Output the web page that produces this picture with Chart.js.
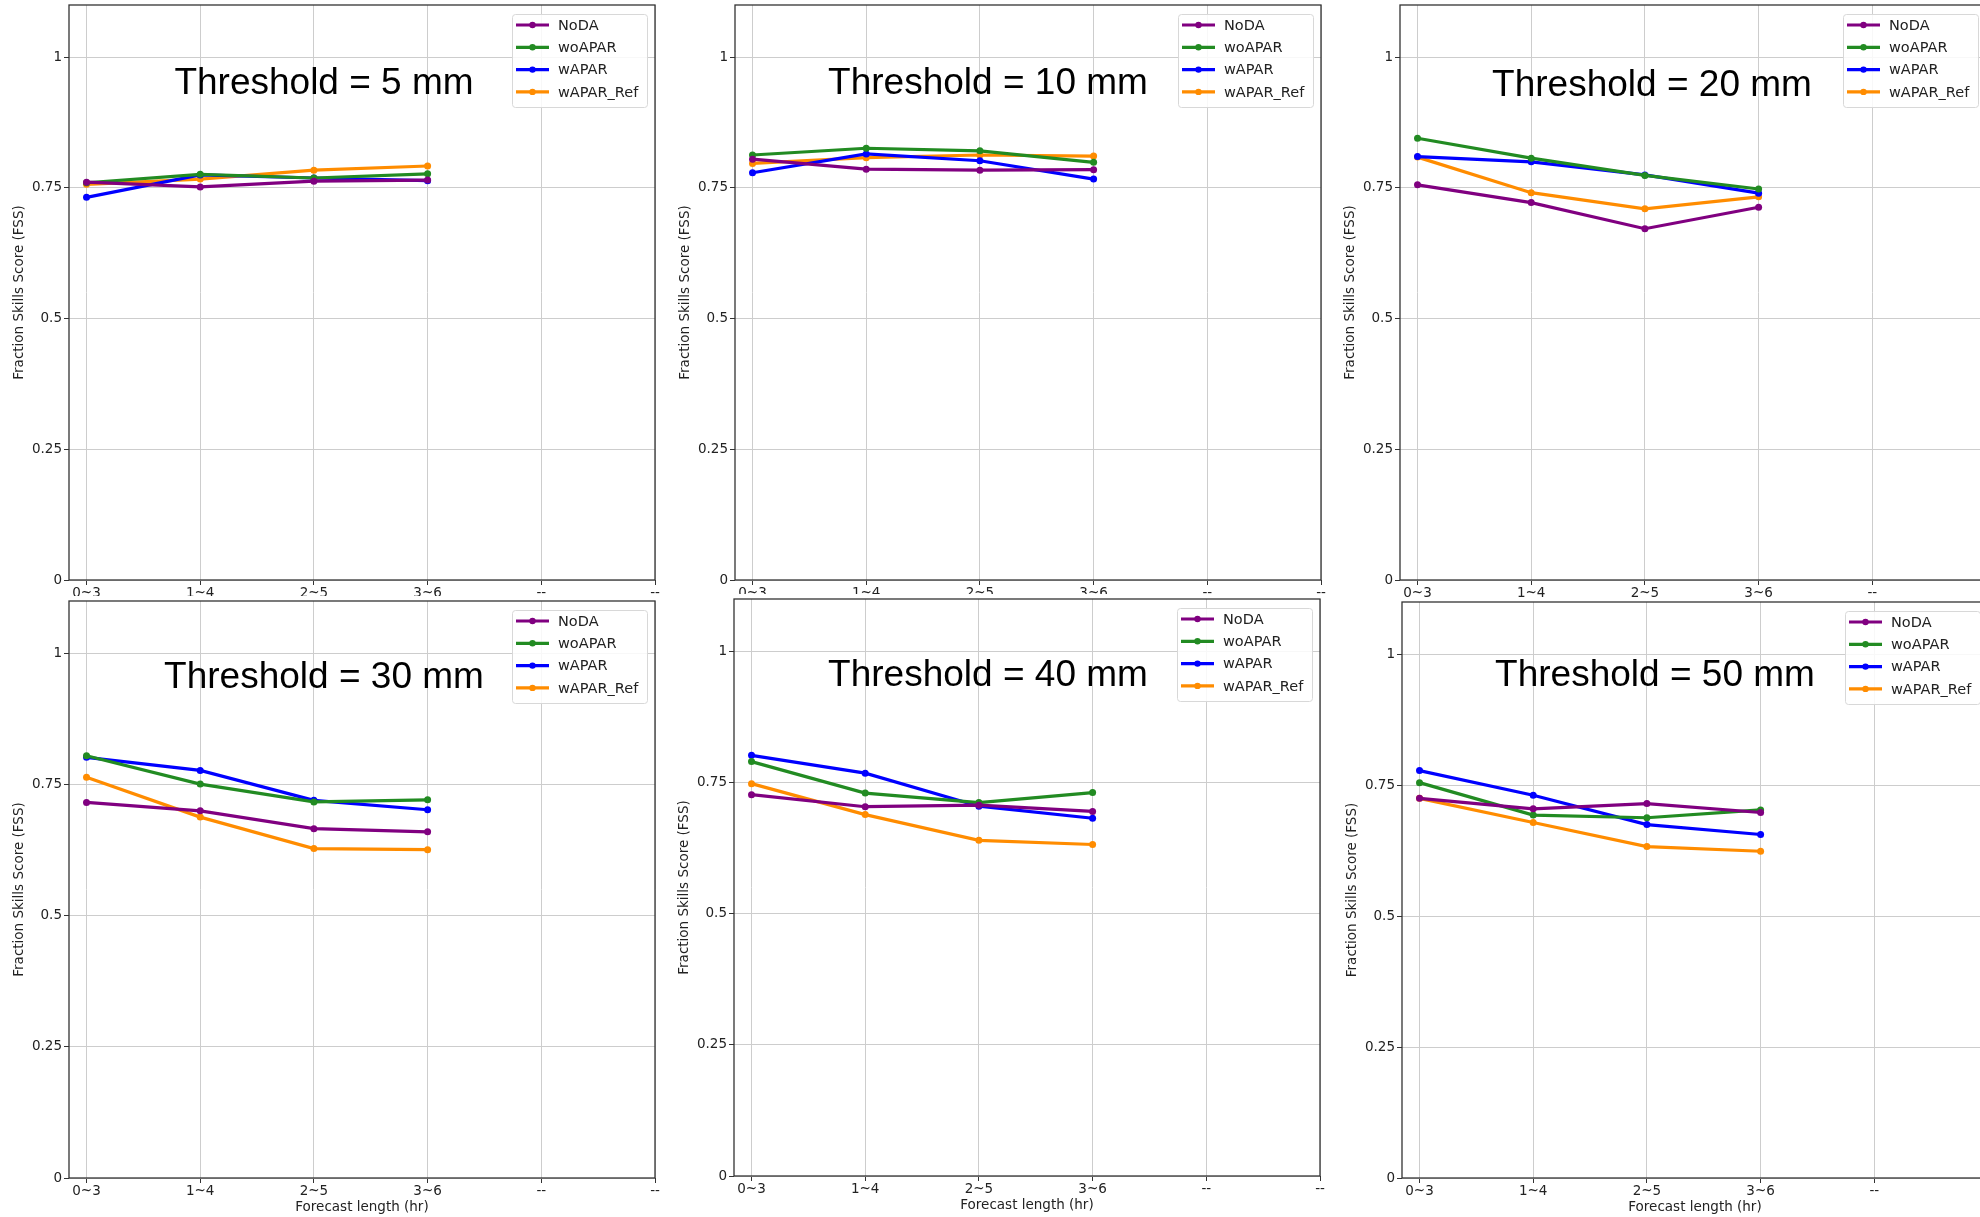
<!DOCTYPE html>
<html lang="en">
<head>
<meta charset="UTF-8">
<title>Fraction Skills Score by threshold</title>
<script src="https://cdn.jsdelivr.net/npm/chart.js"></script>
<style>
  body { margin: 0; width: 1980px; height: 1217px; overflow: hidden; background: #fff; position: relative; }
  .panel { position: absolute; background: #fff; }
  .panel canvas { display: block; }
  .thr {
    position: absolute; z-index: 10;
    font-family: "Liberation Sans", Arial, sans-serif; font-size: 37px; line-height: 1;
    color: #000; white-space: nowrap; transform: translate(-50%, -50%);
  }
</style>
</head>
<body>
<script>
// x axis: forecast windows, the last two ticks are empty placeholders
const xLabels = ['0~3', '1~4', '2~5', '3~6', '--', '--'];
const yTicks = [0, 0.25, 0.5, 0.75, 1];
const thresholds = [5, 10, 20, 30, 40, 50];
const seriesNames = ['NoDA', 'woAPAR', 'wAPAR', 'wAPAR_Ref'];

// FSS, one row per threshold, one column per forecast window
const noDA = [
  [0.761, 0.752, 0.763, 0.765],
  [0.805, 0.786, 0.784, 0.785],
  [0.756, 0.722, 0.672, 0.713],
  [0.716, 0.700, 0.666, 0.660],
  [0.727, 0.704, 0.707, 0.695],
  [0.725, 0.705, 0.715, 0.698]
];
const woAPAR = [
  [0.760, 0.776, 0.769, 0.777],
  [0.813, 0.826, 0.821, 0.799],
  [0.845, 0.807, 0.774, 0.748],
  [0.805, 0.751, 0.717, 0.721],
  [0.790, 0.730, 0.712, 0.731],
  [0.755, 0.693, 0.688, 0.703]
];
const wAPAR = [
  [0.732, 0.775, 0.769, 0.764],
  [0.779, 0.815, 0.802, 0.767],
  [0.810, 0.800, 0.775, 0.740],
  [0.802, 0.777, 0.720, 0.702],
  [0.802, 0.768, 0.705, 0.682],
  [0.778, 0.731, 0.675, 0.656]
];
const wAPARRef = [
  [0.757, 0.767, 0.784, 0.792],
  [0.797, 0.808, 0.813, 0.811],
  [0.809, 0.741, 0.710, 0.733],
  [0.764, 0.688, 0.628, 0.626],
  [0.748, 0.689, 0.640, 0.632],
  [0.725, 0.679, 0.633, 0.624]
];

const seriesData = [noDA, woAPAR, wAPAR, wAPARRef];
const colors = ['#800080', '#228b22', '#0000ff', '#ff8c00'];

// layout of the six pasted panels (plot area left, top, height) and title centres
const panelBoxes = [
  [69, 5, 575], [735, 5, 575], [1400, 5, 575],
  [69, 601, 577], [734, 599, 577], [1402, 602, 576]
];
const titlePos = [[324, 81], [988, 81], [1652, 83], [324, 675], [988, 673], [1655, 673]];

const PLOT_W = 586, AXIS_W = 70, AXIS_H = 38, PAD_T = 5, PAD_R = 14;
const FONT = '"DejaVu Sans", sans-serif';

Chart.defaults.font.family = FONT;
Chart.defaults.font.size = 13.5;
Chart.defaults.color = '#222';

// box around the plot area, matplotlib style
const frame = {
  id: 'frame',
  beforeDatasetsDraw(chart) {
    const { ctx, chartArea: a } = chart;
    ctx.save();
    ctx.strokeStyle = '#333';
    ctx.lineWidth = 1.3;
    ctx.strokeRect(a.left, a.top, a.right - a.left, a.bottom - a.top);
    ctx.restore();
  }
};

// legend drawn inside the upper right corner
const boxLegend = {
  id: 'boxLegend',
  afterDraw(chart) {
    const { ctx, chartArea: a } = chart;
    const w = 135, h = 93;
    const x = a.right - 8 - w, y = a.top + 9;
    ctx.save();
    ctx.fillStyle = 'rgba(255,255,255,0.85)';
    ctx.strokeStyle = '#d8d8d8';
    ctx.lineWidth = 1;
    ctx.beginPath();
    ctx.roundRect(x + 0.5, y + 0.5, w, h, 3);
    ctx.fill();
    ctx.stroke();
    chart.data.datasets.forEach((ds, i) => {
      const ly = y + 11 + i * 22.3;
      ctx.strokeStyle = ds.borderColor;
      ctx.lineWidth = 3.2;
      ctx.beginPath();
      ctx.moveTo(x + 4, ly);
      ctx.lineTo(x + 37, ly);
      ctx.stroke();
      ctx.fillStyle = ds.borderColor;
      ctx.beginPath();
      ctx.arc(x + 20.5, ly, 3.2, 0, Math.PI * 2);
      ctx.fill();
      ctx.fillStyle = '#222';
      ctx.font = '14.5px ' + FONT;
      ctx.textBaseline = 'middle';
      ctx.fillText(ds.label, x + 46, ly + 1);
    });
    ctx.restore();
  }
};

thresholds.forEach((thr, p) => {
  const [left, top, h] = panelBoxes[p];
  const bottomRow = p >= 3;

  const div = document.createElement('div');
  div.className = 'panel';
  div.style.left = (left - AXIS_W) + 'px';
  div.style.top = (top - PAD_T) + 'px';
  const canvas = document.createElement('canvas');
  canvas.width = AXIS_W + PLOT_W + PAD_R;
  canvas.height = PAD_T + h + AXIS_H;
  div.appendChild(canvas);
  document.body.appendChild(div);

  const grid = { color: '#cdcdcd', lineWidth: 1, tickLength: 5, tickColor: '#333' };

  new Chart(canvas.getContext('2d'), {
    type: 'line',
    data: {
      datasets: seriesNames.map((name, s) => ({
        label: name,
        data: seriesData[s][p].map((v, i) => ({ x: i, y: v })),
        borderColor: colors[s],
        backgroundColor: colors[s],
        borderWidth: 3.2,
        pointRadius: 3.5,
        pointBorderWidth: 0,
        pointBackgroundColor: colors[s],
        tension: 0,
        fill: false
      }))
    },
    options: {
      responsive: false,
      animation: false,
      events: [],
      layout: { padding: { top: PAD_T, right: PAD_R, left: 0, bottom: 0 } },
      plugins: { legend: { display: false }, tooltip: { enabled: false } },
      scales: {
        x: {
          type: 'linear',
          min: -0.154,
          max: 5,
          afterBuildTicks: s => { s.ticks = xLabels.map((_, i) => ({ value: i })); },
          afterFit: s => { s.height = AXIS_H; s.paddingLeft = 0; s.paddingRight = 0; },
          ticks: { callback: v => xLabels[v], autoSkip: false, maxRotation: 0, padding: 0 },
          grid: grid,
          border: { display: false },
          title: { display: bottomRow, text: 'Forecast length (hr)', padding: { top: 0, bottom: 0 } }
        },
        y: {
          min: 0,
          max: 1.1,
          afterBuildTicks: s => { s.ticks = yTicks.map(v => ({ value: v })); },
          afterFit: s => { s.width = AXIS_W; s.paddingTop = 0; s.paddingBottom = 0; },
          ticks: { callback: v => String(v), padding: 2 },
          grid: grid,
          border: { display: false },
          title: { display: true, text: 'Fraction Skills Score (FSS)', padding: { top: 12, bottom: 0 } }
        }
      }
    },
    plugins: [frame, boxLegend]
  });

  const t = document.createElement('div');
  t.className = 'thr';
  t.textContent = 'Threshold = ' + thr + ' mm';
  t.style.left = titlePos[p][0] + 'px';
  t.style.top = titlePos[p][1] + 'px';
  document.body.appendChild(t);
});
</script>
</body>
</html>
